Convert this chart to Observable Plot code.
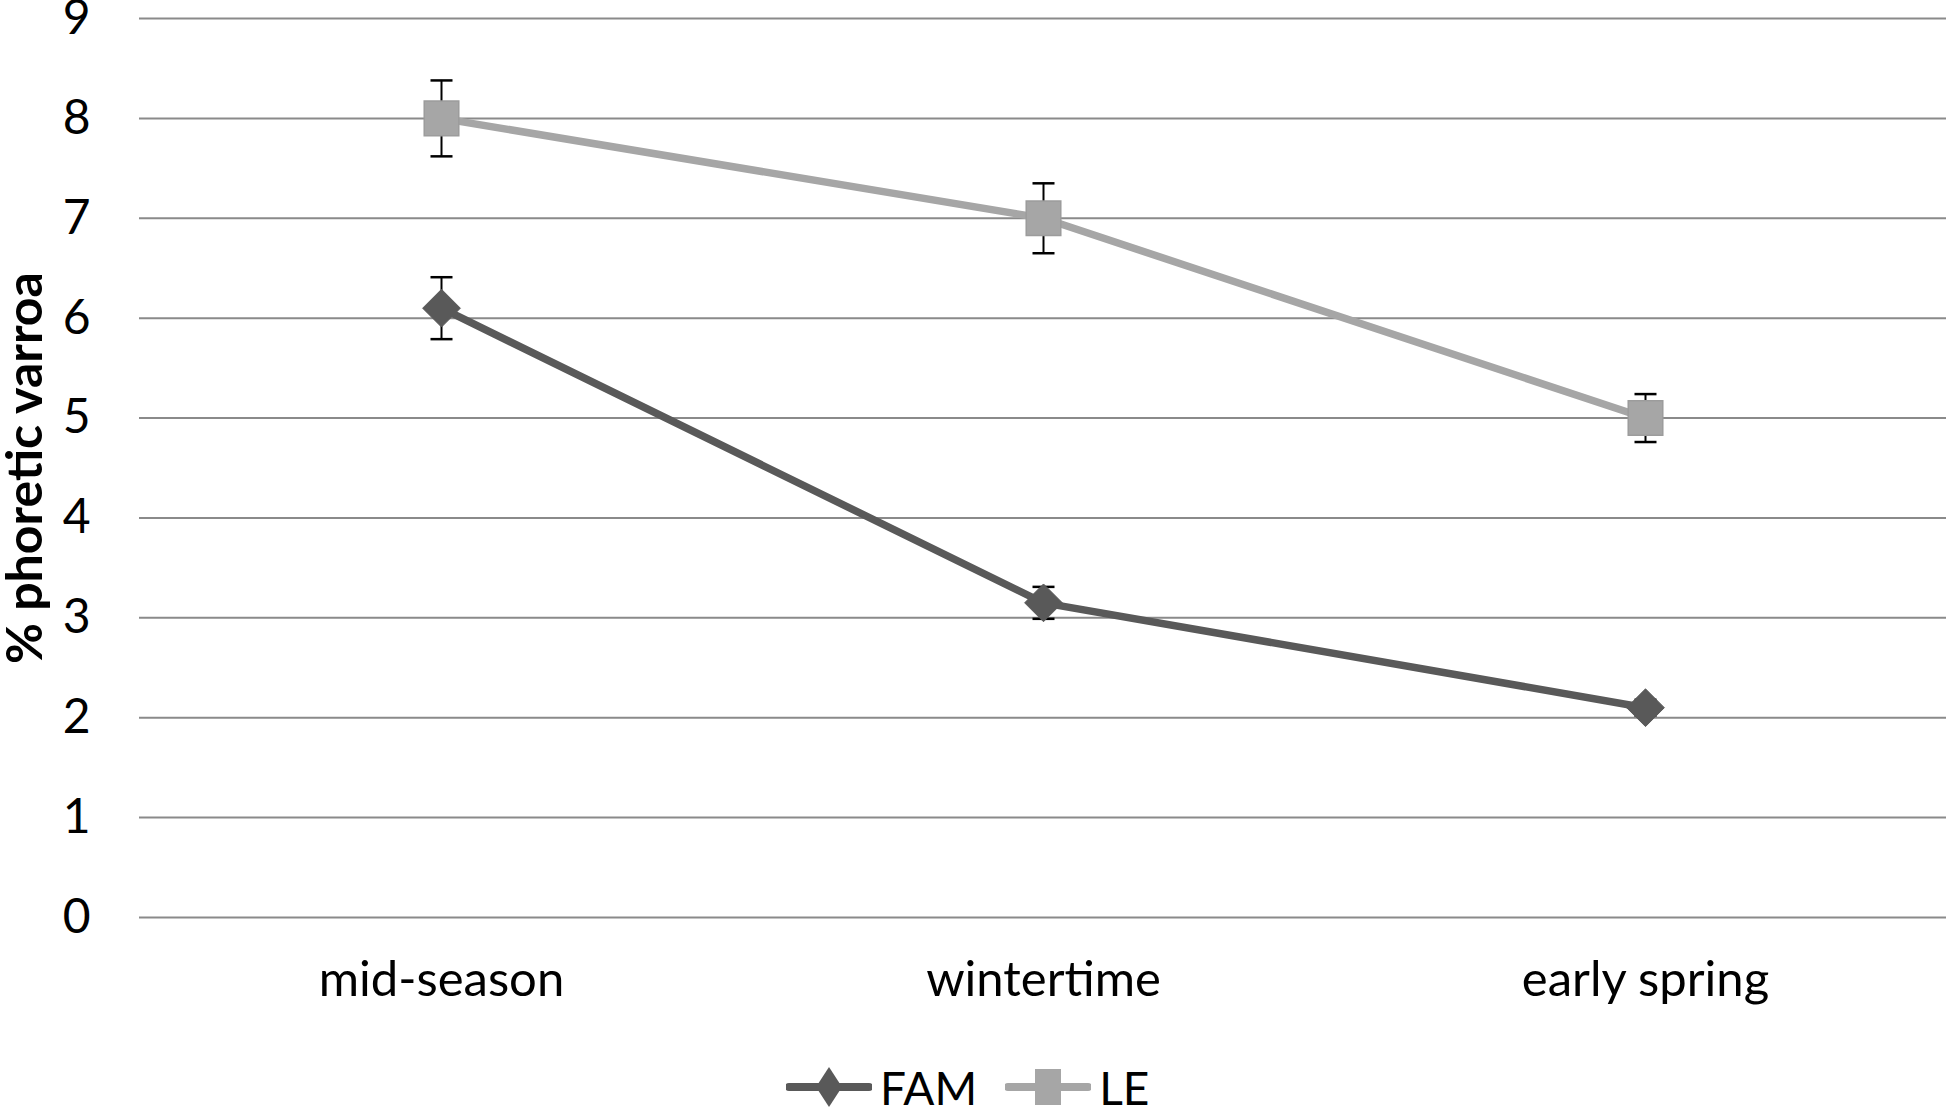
<!DOCTYPE html>
<html>
<head>
<meta charset="utf-8">
<script src="https://cdn.jsdelivr.net/npm/d3@7"></script>
<script src="https://cdn.jsdelivr.net/npm/@observablehq/plot@0.6"></script>
<style>
  html, body { margin: 0; padding: 0; background: #fff; }
  #chart { width: 1950px; }
  #chart svg { display: block; }
  #chart g[aria-label="y-axis label"] text { font-weight: 700; font-size: 50px; }
  #legend {
    width: 1950px; height: 54px; display: flex; align-items: center;
    font-family: Lato, "Open Sans", sans-serif; font-size: 46px; color: #000;
    padding-left: 786px; box-sizing: border-box;
  }
  #legend .item { display: flex; align-items: center; margin-right: 28px; }
  #legend svg { display: block; margin-right: 8px; }
</style>
</head>
<body>
<div id="chart"></div>
<div id="legend"></div>
<script>
// ---- data ----
const seasons = ["mid-season", "wintertime", "early spring"];
const seriesNames = ["FAM", "LE"];
const famMean = [6.1, 3.15, 2.1];
const famErr  = [0.31, 0.16, 0.08];
const leMean  = [8.0, 7.0, 5.0];
const leErr   = [0.38, 0.35, 0.24];
const yTicks  = [0, 1, 2, 3, 4, 5, 6, 7, 8, 9];
const seriesColors = ["#595959", "#a6a6a6"];
const seriesSymbols = ["diamond2", "square"];

// ---- table built from the arrays ----
const rows = [];
seasons.forEach((s, i) => {
  rows.push({season: s, series: "FAM", v: famMean[i], lo: famMean[i] - famErr[i], hi: famMean[i] + famErr[i]});
});
seasons.forEach((s, i) => {
  rows.push({season: s, series: "LE", v: leMean[i], lo: leMean[i] - leErr[i], hi: leMean[i] + leErr[i]});
});

const capSymbol = {
  draw(context, size) {
    const r = Math.sqrt(size / Math.PI);
    context.moveTo(-r, 0);
    context.lineTo(r, 0);
  }
};

const W = 1950, H = 1060;
const fontFam = "Lato, 'Open Sans', sans-serif";

const chart = Plot.plot({
  width: W,
  height: H,
  marginLeft: 139,
  marginRight: 4,
  marginTop: 18,
  marginBottom: H - 917,
  style: {fontFamily: fontFam, fontSize: "48px", color: "#000", background: "#fff"},
  x: {type: "point", domain: seasons, padding: 0.5},
  y: {domain: [0, 9]},
  color: {domain: seriesNames, range: seriesColors},
  marks: [
    Plot.gridY(yTicks, {stroke: "#8a8a8a", strokeOpacity: 1, strokeWidth: 2}),
    Plot.axisY(yTicks, {tickSize: 0, tickPadding: 49, fontSize: 48, tickFormat: d => String(d),
      label: "% phoretic varroa", labelAnchor: "center", labelOffset: 133, labelArrow: "none"}),
    Plot.axisX({tickSize: 0, tickPadding: 44, fontSize: 49, label: null}),
    Plot.ruleX(rows, {x: "season", y1: "lo", y2: "hi", stroke: "#000", strokeWidth: 2}),
    Plot.dot(rows, {x: "season", y: "lo", symbol: capSymbol, r: 11, stroke: "#000", strokeWidth: 2.5, fill: "none"}),
    Plot.dot(rows, {x: "season", y: "hi", symbol: capSymbol, r: 11, stroke: "#000", strokeWidth: 2.5, fill: "none"}),
    Plot.line(rows, {x: "season", y: "v", z: "series", stroke: "series", strokeWidth: 7.5}),
    Plot.dot(rows.filter(d => d.series === "LE"), {x: "season", y: "v", symbol: "square", r: 19.5,
      fill: seriesColors[1], stroke: "#9c9c9c", strokeWidth: 1.5}),
    Plot.dot(rows.filter(d => d.series === "FAM"), {x: "season", y: "v", symbol: "diamond2", r: 17,
      fill: seriesColors[0], stroke: seriesColors[0], strokeWidth: 1})
  ]
});
document.getElementById("chart").appendChild(chart);

// ---- legend (HTML, below the SVG) ----
const legend = document.getElementById("legend");
seriesNames.forEach((name, i) => {
  const item = document.createElement("div");
  item.className = "item";
  const ns = "http://www.w3.org/2000/svg";
  const sw = document.createElementNS(ns, "svg");
  sw.setAttribute("width", 86);
  sw.setAttribute("height", 44);
  const ln = document.createElementNS(ns, "line");
  ln.setAttribute("x1", 3); ln.setAttribute("x2", 83);
  ln.setAttribute("y1", 22); ln.setAttribute("y2", 22);
  ln.setAttribute("stroke", seriesColors[i]);
  ln.setAttribute("stroke-width", 8);
  ln.setAttribute("stroke-linecap", "round");
  sw.appendChild(ln);
  const p = document.createElementNS(ns, "path");
  if (seriesSymbols[i] === "square") {
    p.setAttribute("d", "M30,4H56V40H30Z");
  } else {
    p.setAttribute("d", "M43,2L56,22L43,42L30,22Z");
  }
  p.setAttribute("fill", seriesColors[i]);
  sw.appendChild(p);
  item.appendChild(sw);
  const t = document.createElement("span");
  t.textContent = name;
  item.appendChild(t);
  legend.appendChild(item);
});
</script>
</body>
</html>
